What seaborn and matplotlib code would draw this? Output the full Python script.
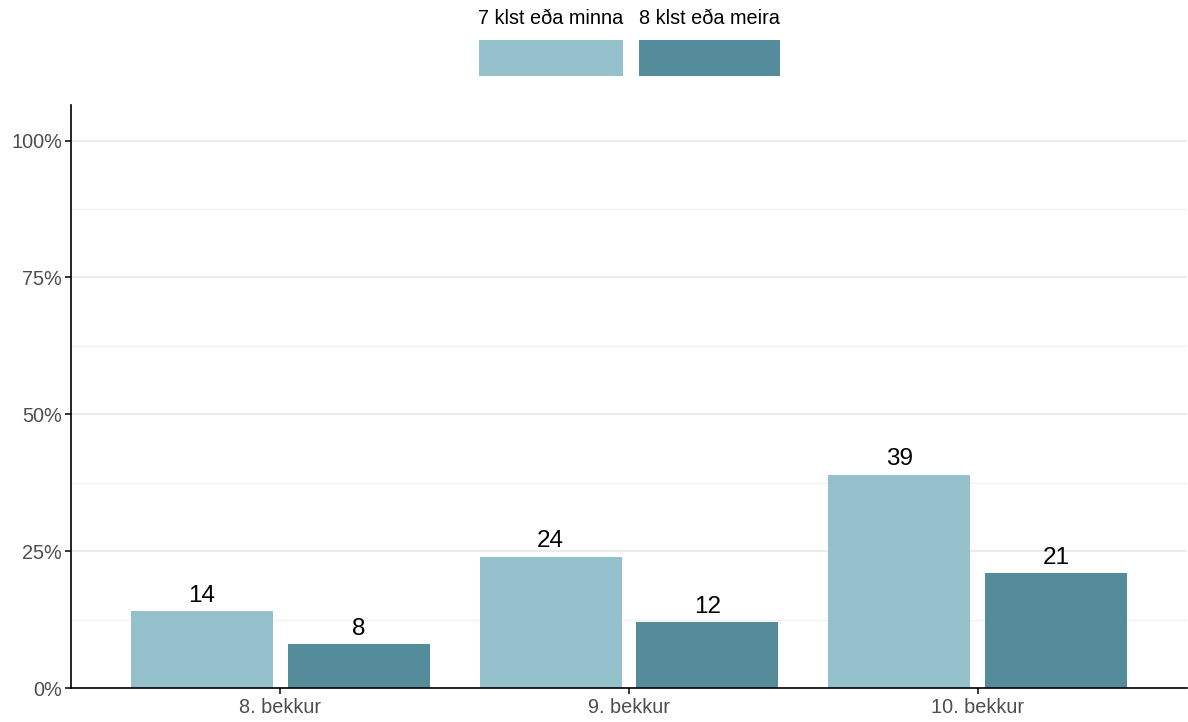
import matplotlib
matplotlib.use("Agg")
import matplotlib.pyplot as plt
from matplotlib.patches import Rectangle
from matplotlib.ticker import FixedLocator, FuncFormatter
import seaborn as sns
import pandas as pd

# Sleep duration by school year (percent of pupils)
grades = ["8. bekkur", "9. bekkur", "10. bekkur"]
series = ["7 klst eða minna", "8 klst eða meira"]
short_sleep = [14, 24, 39]
long_sleep = [8, 12, 21]
colors = ["#94C1CC", "#558C9B"]

df = pd.DataFrame({
    "bekkur": grades * 2,
    "svefn": [series[0]] * 3 + [series[1]] * 3,
    "hlutfall": short_sleep + long_sleep,
})

sns.set_theme(style="white")
plt.rcParams["font.family"] = ["Liberation Sans", "DejaVu Sans"]

W, H = 1188, 722
fig = plt.figure(figsize=(W / 100, H / 100), dpi=100)
ax = fig.add_axes([71 / W, 1 - 688 / H, (1187 - 71) / W, (688 - 105) / H])

sns.barplot(data=df, x="bekkur", y="hlutfall", hue="svefn", order=grades,
            hue_order=series, palette=colors, width=0.9, gap=0.095,
            saturation=1, ax=ax, legend=False, errorbar=None,
            linewidth=0, edgecolor="none")

for cont in ax.containers:
    ax.bar_label(cont, labels=[f"{v:.0f}" for v in cont.datavalues],
                 padding=3, fontsize=17.5, color="black")

ax.set_xlim(-0.6, 2.6)
ax.set_ylim(0, 106.5)
ax.yaxis.set_major_locator(FixedLocator([0, 25, 50, 75, 100]))
ax.yaxis.set_minor_locator(FixedLocator([12.5, 37.5, 62.5, 87.5]))
ax.yaxis.set_major_formatter(FuncFormatter(lambda v, p: f"{v:.0f}%"))
ax.grid(axis="y", which="major", color="#EBEBEB", linewidth=1.5)
ax.grid(axis="y", which="minor", color="#F2F2F2", linewidth=1.0)
ax.grid(axis="x", visible=False)
ax.set_axisbelow(True)

for side in ["top", "right"]:
    ax.spines[side].set_visible(False)
for side in ["left", "bottom"]:
    ax.spines[side].set_color("black")
    ax.spines[side].set_linewidth(1.2)

ax.tick_params(axis="both", which="major", length=4, width=1.1, color="black",
               labelsize=14.3, labelcolor="#4D4D4D", direction="out")
ax.tick_params(axis="y", which="major", pad=2.5, left=True)
ax.tick_params(axis="x", which="major", pad=3, bottom=True)
ax.tick_params(axis="y", which="minor", length=0)
ax.set_xlabel("")
ax.set_ylabel("")

# Legend on top: label above a wide colour key
keys = [(479, 623), (639, 780)]
for name, col, (x0, x1) in zip(series, colors, keys):
    fig.add_artist(Rectangle((x0 / W, 1 - 76 / H), (x1 - x0) / W, 36 / H,
                             transform=fig.transFigure, facecolor=col,
                             edgecolor="none"))
    fig.text((x0 + x1) / 2 / W, 1 - 18 / H, name, ha="center", va="center",
             fontsize=14.3, color="black")

fig.savefig("out.png", dpi=100, facecolor="white")
